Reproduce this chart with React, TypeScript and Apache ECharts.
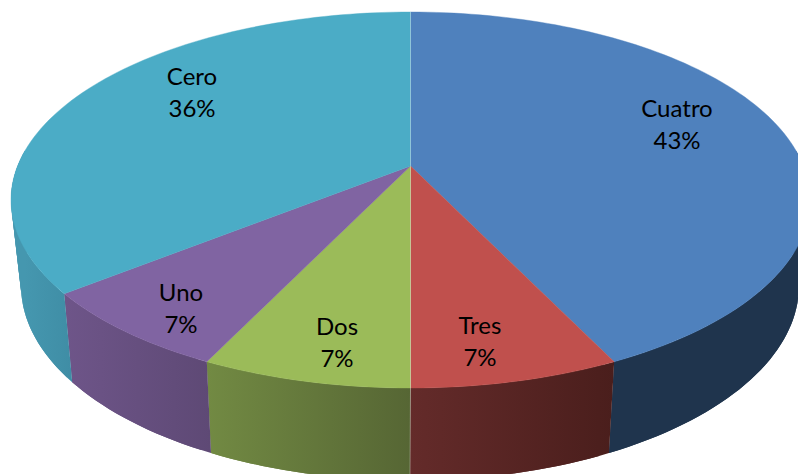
import React, { useEffect, useRef } from "react";
import * as echarts from "echarts";

const categories = ["Cuatro", "Tres", "Dos", "Uno", "Cero"];
const counts = [6, 1, 1, 1, 5];

const TOP_COLORS = ["#4F81BD", "#C0504D", "#9BBB59", "#8064A2", "#4BACC6"];
const WALL_GRADIENTS = [
  ["#1F344D", "#1F344D"],
  ["#642B2A", "#4A1E1C"],
  ["#728A43", "#566634"],
  ["#6E5589", "#5E4975"],
  ["#4597AF", "#3F8DA5"],
];
const LABEL_CENTERS = [
  [677, 123],
  [480, 340],
  [337, 341],
  [181, 307],
  [192, 91],
];
const SEAM_INDEXES = [0, 2];

const TOP_RIM = { cx: 410.5, cy: 200, rx: 399.5, ry: 188, hub: -34 };
const BOTTOM_RIM = { cx: 410, cy: 285.5, rx: 389, ry: 195, hub: -36 };

type Rim = typeof TOP_RIM;
const total = counts.reduce((a, b) => a + b, 0);
const edges: number[] = [0];
counts.forEach((c, i) => edges.push(edges[i] + (c / total) * 360));

// A circle point seen in perspective: the hub sits off the ellipse centre.
function project(rim: Rim, deg: number, r = 1): number[] {
  const a = (deg * Math.PI) / 180;
  const u = Math.sin(a) * r;
  const v = -Math.cos(a) * r;
  const c = rim.hub / rim.ry;
  const k = rim.rx * Math.sqrt(1 - c * c);
  const w = 1 + c * v;
  return [rim.cx + (k * u) / w, rim.cy + (rim.ry * v + rim.hub) / w];
}

function arc(rim: Rim, from: number, to: number): number[][] {
  const n = Math.max(2, Math.ceil(Math.abs(to - from) / 1.5));
  const pts: number[][] = [];
  for (let i = 0; i <= n; i++) pts.push(project(rim, from + ((to - from) * i) / n));
  return pts;
}

function renderWall(params: any) {
  const i = params.dataIndex;
  const from = Math.max(edges[i], 85);
  const to = Math.min(edges[i + 1], 275);
  if (to <= from) return { type: "group", children: [] };
  const top = arc(TOP_RIM, from, to);
  const bottom = arc(BOTTOM_RIM, from, to);
  const ends = [top[0][0], bottom[0][0], top[top.length - 1][0], bottom[bottom.length - 1][0]];
  const [c0, c1] = WALL_GRADIENTS[i];
  const fill = new echarts.graphic.LinearGradient(
    Math.min(...ends), 0, Math.max(...ends), 0,
    [{ offset: 0, color: c0 }, { offset: 1, color: c1 }],
    true
  );
  // Each strip overlaps the next one, so that no seam shows between them.
  const children = top.slice(1).map((_, j) => {
    const e = Math.min(j + 2, top.length - 1);
    return {
      type: "polygon",
      shape: { points: [top[j], ...top.slice(j + 1, e + 1), ...bottom.slice(j, e + 1).reverse()] },
      style: { fill },
    };
  });
  return { type: "group", children };
}

function renderTop(params: any) {
  const i = params.dataIndex;
  const hub = project(TOP_RIM, 0, 0);
  const pts = [hub].concat(arc(TOP_RIM, edges[i], edges[i + 1]));
  return {
    type: "polygon",
    shape: { points: pts },
    style: { fill: TOP_COLORS[i], stroke: TOP_COLORS[i], lineWidth: 0.4 },
  };
}

function renderSeam(params: any) {
  const i = params.dataIndex;
  if (!SEAM_INDEXES.includes(i)) return { type: "group", children: [] };
  const hub = project(TOP_RIM, 0, 0);
  const a = project(TOP_RIM, edges[i]);
  const b = project(BOTTOM_RIM, edges[i]);
  const children: any[] = [
    {
      type: "line",
      shape: { x1: hub[0], y1: hub[1], x2: a[0], y2: a[1] },
      style: { stroke: "rgba(255,255,255,0.32)", lineWidth: 1 },
    },
  ];
  if (a[1] > hub[1]) {
    children.push({
      type: "line",
      shape: { x1: a[0], y1: a[1], x2: b[0], y2: b[1] },
      style: { stroke: "rgba(255,255,255,0.32)", lineWidth: 1 },
    });
  }
  return { type: "group", children };
}

function renderLabel(params: any) {
  const i = params.dataIndex;
  const [x, y] = LABEL_CENTERS[i];
  const pct = Math.round((counts[i] / total) * 100);
  return {
    type: "text",
    x,
    y,
    style: {
      text: `${categories[i]}\n${pct}%`,
      fontFamily: "Lato, 'Open Sans', sans-serif",
      fontSize: 24,
      lineHeight: 32,
      fill: "#000000",
      align: "center",
      verticalAlign: "middle",
    },
  };
}

export default function App() {
  const ref = useRef<HTMLDivElement>(null);
  useEffect(() => {
    document.body.style.margin = "0";
    const chart = echarts.init(ref.current!, undefined, { renderer: "svg" });
    const data = counts.map((value, i) => ({ name: categories[i], value }));
    const layer = (renderItem: any, z: number) => ({
      type: "custom",
      coordinateSystem: "none",
      renderItem,
      data,
      z,
      silent: true,
      clip: false,
    });
    chart.setOption({
      animation: false,
      backgroundColor: "#ffffff",
      series: [
        layer(renderWall, 1),
        layer(renderTop, 2),
        layer(renderSeam, 3),
        layer(renderLabel, 4),
      ],
    });
    return () => chart.dispose();
  }, []);
  return (
    <div
      ref={ref}
      style={{ position: "absolute", left: 0, top: 0, width: 798, height: 474, overflow: "hidden" }}
    />
  );
}
